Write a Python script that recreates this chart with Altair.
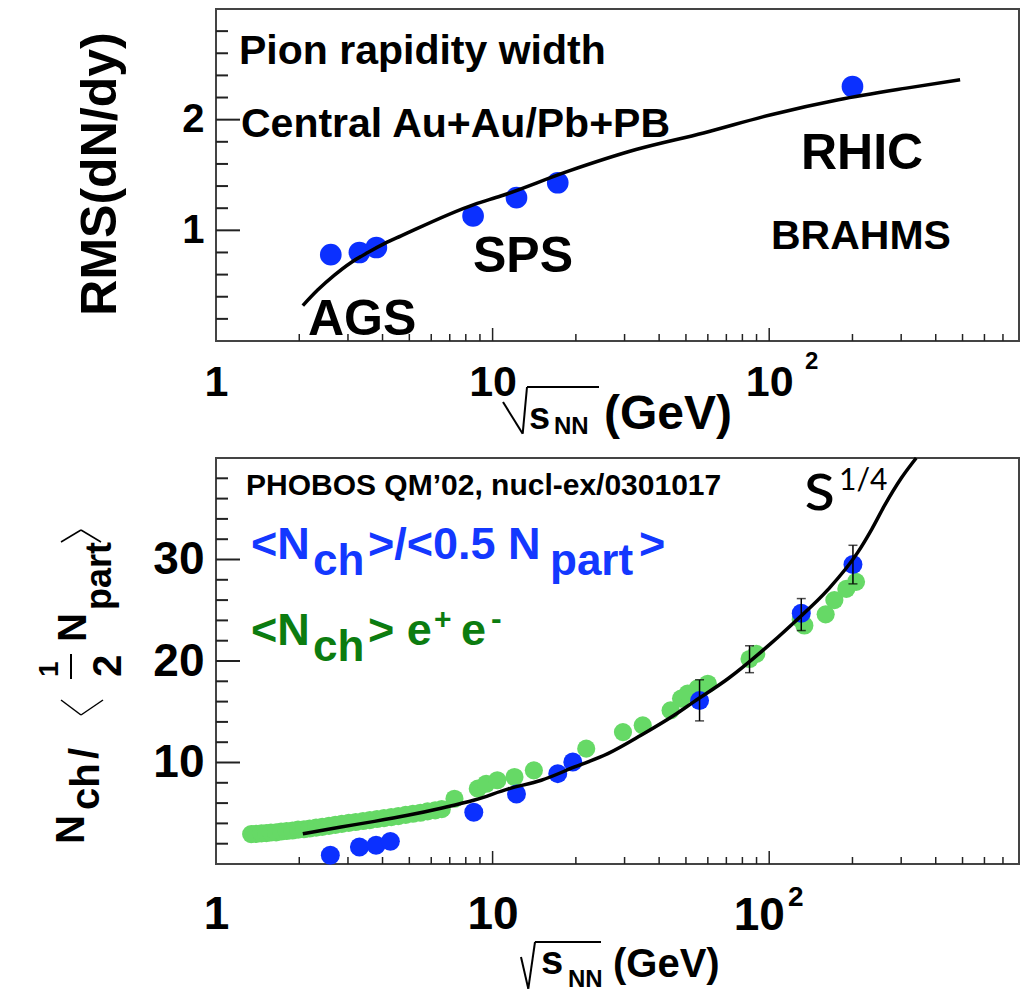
import altair as alt
import pandas as pd

# ---------------- data ----------------
# upper panel: RMS width of pion dN/dy vs sqrt(s_NN)
top_energy = [2.6, 3.3, 3.8, 8.5, 12.2, 17.2, 200.0]
top_rms = [0.78, 0.80, 0.845, 1.13, 1.295, 1.43, 2.30]
top_fit_energy = [2.06, 2.33, 2.68, 3.08, 3.54, 4.06, 4.67, 8.6, 10.7, 18.8, 33.0, 57.9,
                  101.6, 178.0, 313.0, 490.0]
top_fit_rms = [0.32, 0.46, 0.595, 0.71, 0.80, 0.88, 0.95, 1.235, 1.31, 1.535, 1.73, 1.88,
               2.045, 2.18, 2.285, 2.36]

# lower panel: N_ch / <N_part/2>  (blue, heavy ions) and e+e- (green)
hi_energy = [2.59, 3.30, 3.79, 4.27, 8.55, 12.2, 17.2, 19.5, 56.0, 130.6, 200.8]
hi_nch = [0.86, 1.67, 1.84, 2.23, 5.1, 6.9, 8.9, 10.05, 16.1, 24.7, 29.5]
err_energy = [56.0, 84.9, 130.6, 200.8]
err_low = [14.1, 18.85, 23.0, 27.6]
err_high = [18.15, 21.5, 26.15, 31.4]
ee_energy = [1.34, 1.40, 1.46, 1.52, 1.58, 1.65, 1.72, 1.80, 1.89, 1.98, 2.08, 2.18, 2.30,
             2.42, 2.56, 2.70, 2.85, 3.02, 3.20, 3.40, 3.60, 3.82, 4.05, 4.30, 4.56, 4.85,
             5.15, 5.48, 5.82, 6.2, 6.55, 7.28, 8.84, 9.48, 10.4, 12.0, 14.1, 21.8, 29.6,
             34.9, 44.0, 48.0, 50.7, 55.1, 60.0, 84.9, 89.8, 130.0, 134.0, 160.0, 172.0,
             190.0, 206.0]
ee_nch = [2.95, 2.97, 3.02, 3.05, 3.10, 3.12, 3.20, 3.25, 3.30, 3.38, 3.42, 3.50, 3.58,
          3.66, 3.76, 3.85, 3.96, 4.05, 4.14, 4.24, 4.33, 4.43, 4.52, 4.62, 4.72, 4.84,
          4.95, 5.05, 5.18, 5.28, 5.40, 6.43, 7.42, 7.91, 8.25, 8.57, 9.23, 11.36, 13.0,
          13.66, 15.14, 16.3, 16.78, 17.3, 17.76, 20.2, 20.7, 24.1, 23.5, 24.6, 26.0,
          27.1, 27.8]
fit_energy = [2.06, 2.83, 3.74, 4.93, 6.51, 8.6, 11.4, 15.0, 19.8, 26.1, 34.4, 45.3, 53.5,
              70.9, 93.5, 123.0, 164.0, 209.0, 235.0, 261.0, 300.0, 340.0]
fit_nch = [2.98, 3.65, 4.2, 4.8, 5.5, 6.3, 7.4, 8.25, 9.56, 10.87, 12.68, 14.65, 16.0,
           18.25, 20.9, 23.8, 27.1, 30.7, 33.0, 35.3, 38.0, 40.0]

# axis tick values
x_labels = [1, 10, 100]
x_major = [10, 100]
x_minor = [2, 3, 4, 5, 6, 7, 8, 9, 20, 30, 40, 50, 60, 70, 80, 90, 200, 300, 400, 500, 600, 700]
top_y_major = [1, 2]
top_y_minor = [0.2, 0.4, 0.6, 0.8, 1.2, 1.4, 1.6, 1.8, 2.2, 2.4, 2.6, 2.8]
bot_y_major = [10, 20, 30]
bot_y_minor = [2, 4, 6, 8, 12, 14, 16, 18, 22, 24, 26, 28, 32, 34, 36, 38]
hundred = [100]

# ---------------- styling ----------------
FONT = "Liberation Sans"
W, H1, H2 = 803, 332, 406
BLUE_PT = "#0b30ff"
GREEN_PT = "#66d966"
BLUE_TXT = "#1338ff"
GREEN_TXT = "#0c7c10"

xsc = alt.Scale(type="log", domain=[1, 800], nice=False)
ysc1 = alt.Scale(domain=[0, 3], nice=False, zero=False)
ysc2 = alt.Scale(domain=[0, 40], nice=False, zero=False)

one = pd.DataFrame({"k": [0]})


def txt(s, x, y, size, color="black", font=FONT, weight="bold", angle=0,
        align="left", baseline="alphabetic"):
    return alt.Chart(one).mark_text(
        text=s, font=font, fontSize=size, fontWeight=weight, color=color,
        angle=angle, align=align, baseline=baseline
    ).encode(x=alt.value(x), y=alt.value(y))


def seg(x1, y1, x2, y2, w=2):
    return alt.Chart(one).mark_rule(color="black", strokeWidth=w).encode(
        x=alt.value(x1), y=alt.value(y1), x2=alt.value(x2), y2=alt.value(y2))


def xaxis(size, pad, expr):
    return alt.Axis(values=x_labels, labelExpr=expr, labelFont=FONT, labelFontWeight="bold",
                    labelFontSize=size, labelColor="black", labelPadding=pad,
                    labelFlush=False, labelOverlap=False, ticks=False, tickSize=0,
                    domain=False, grid=False, title=None)


def yaxis(vals, size, pad):
    return alt.Axis(values=vals, labelFont=FONT, labelFontWeight="bold", labelFontSize=size,
                    labelColor="black", labelPadding=pad, labelFlush=False,
                    labelOverlap=False, ticks=False, tickSize=0, domain=False,
                    grid=False, title=None)


top_xax = xaxis(43, 20, "datum.value < 5 ? '1' : '10'")
top_yax = yaxis(top_y_major, 40, 12)
bot_xax = xaxis(46, 28, "datum.value < 5 ? '1' : (datum.value < 50 ? '10' : '')")
bot_yax = yaxis(bot_y_major, 46, 12)


def yticks(vals, ysc, yax, length):
    return alt.Chart(pd.DataFrame({"v": vals})).mark_rule(color="#222", strokeWidth=2).encode(
        y=alt.Y("v:Q", scale=ysc, axis=yax), x=alt.value(0), x2=alt.value(length))


def xticks(vals, xax, H, length):
    return alt.Chart(pd.DataFrame({"v": vals})).mark_rule(color="#222", strokeWidth=1.5).encode(
        x=alt.X("v:Q", scale=xsc, axis=xax), y=alt.value(H), y2=alt.value(H - length))


# ---------------- upper panel ----------------
top_pts = alt.Chart(pd.DataFrame({"E": top_energy, "R": top_rms})).mark_circle(
    size=470, color=BLUE_PT, opacity=1).encode(
    x=alt.X("E:Q", scale=xsc, axis=top_xax),
    y=alt.Y("R:Q", scale=ysc1, axis=top_yax))
top_fit = alt.Chart(pd.DataFrame({"E": top_fit_energy, "R": top_fit_rms})).mark_line(
    color="black", strokeWidth=3.5, interpolate="monotone").encode(
    x=alt.X("E:Q", scale=xsc, axis=top_xax), y=alt.Y("R:Q", scale=ysc1, axis=top_yax))

top = alt.layer(
    top_pts, top_fit,
    yticks(top_y_minor, ysc1, top_yax, 12), yticks(top_y_major, ysc1, top_yax, 24),
    xticks(x_minor, top_xax, H1, 7), xticks(x_major, top_xax, H1, 13),
    txt("Pion rapidity width", 23, 55, 41),
    txt("Central Au+Au/Pb+PB", 25, 128, 41),
    txt("AGS", 92, 326, 50),
    txt("SPS", 257, 263, 50),
    txt("RHIC", 585, 160, 50),
    txt("BRAHMS", 555, 240, 41),
    txt("2", 589, 360, 24),
    txt("RMS(dN/dy)", -100, 165, 50, angle=270, align="center"),
    # sqrt(s_NN) (GeV)
    seg(287, 393, 306.7, 424.7),
    seg(306.7, 424.7, 311, 378),
    seg(311, 378, 383, 378),
    txt("s", 313, 420, 38),
    txt("NN", 338, 425, 24),
    txt("(GeV)", 388, 420, 48),
).properties(width=W, height=H1)

# ---------------- lower panel ----------------
ee_pts = alt.Chart(pd.DataFrame({"E": ee_energy, "N": ee_nch})).mark_circle(
    size=330, color=GREEN_PT, opacity=1).encode(
    x=alt.X("E:Q", scale=xsc, axis=bot_xax),
    y=alt.Y("N:Q", scale=ysc2, axis=bot_yax))
hi_pts = alt.Chart(pd.DataFrame({"E": hi_energy, "N": hi_nch})).mark_circle(
    size=360, color=BLUE_PT, opacity=1).encode(
    x=alt.X("E:Q", scale=xsc, axis=bot_xax), y=alt.Y("N:Q", scale=ysc2, axis=bot_yax))
bot_fit = alt.Chart(pd.DataFrame({"E": fit_energy, "N": fit_nch})).mark_line(
    color="black", strokeWidth=3.5, interpolate="monotone").encode(
    x=alt.X("E:Q", scale=xsc, axis=bot_xax), y=alt.Y("N:Q", scale=ysc2, axis=bot_yax))
err_df = pd.DataFrame({"E": err_energy, "lo": err_low, "hi": err_high})
err_bars = alt.Chart(err_df).mark_rule(color="black", strokeWidth=1.5).encode(
    x=alt.X("E:Q", scale=xsc, axis=bot_xax), y=alt.Y("lo:Q", scale=ysc2, axis=bot_yax), y2="hi:Q")
err_lo = alt.Chart(err_df).mark_tick(orient="horizontal", size=9, thickness=1.5, color="black").encode(
    x=alt.X("E:Q", scale=xsc, axis=bot_xax), y=alt.Y("lo:Q", scale=ysc2, axis=bot_yax))
err_hi = alt.Chart(err_df).mark_tick(orient="horizontal", size=9, thickness=1.5, color="black").encode(
    x=alt.X("E:Q", scale=xsc, axis=bot_xax), y=alt.Y("hi:Q", scale=ysc2, axis=bot_yax))
# "10" of the 10^2 label, set a little left of its tick to leave room for the exponent
lbl100 = alt.Chart(pd.DataFrame({"v": hundred})).mark_text(
    text="10", dx=-10, font=FONT, fontSize=46, fontWeight="bold", color="black",
    align="center", baseline="alphabetic").encode(
    x=alt.X("v:Q", scale=xsc, axis=bot_xax), y=alt.value(472))

bot = alt.layer(
    ee_pts, hi_pts, bot_fit, err_bars, err_lo, err_hi,
    yticks(bot_y_minor, ysc2, bot_yax, 12), yticks(bot_y_major, ysc2, bot_yax, 24),
    xticks(x_minor, bot_xax, H2, 7), xticks(x_major, bot_xax, H2, 13),
    lbl100,
    txt("PHOBOS QM\u201902, nucl-ex/0301017", 30, 37, 30),
    # blue legend line
    txt("<N", 35, 101, 45, color=BLUE_TXT),
    txt("ch", 97, 117, 44, color=BLUE_TXT),
    txt(">/<0.5 N", 152, 101, 45, color=BLUE_TXT),
    txt("part", 334, 117, 44, color=BLUE_TXT),
    txt(">", 423, 101, 45, color=BLUE_TXT),
    # green legend line
    txt("<N", 35, 187, 45, color=GREEN_TXT),
    txt("ch", 97, 203, 44, color=GREEN_TXT),
    txt("> e", 152, 187, 45, color=GREEN_TXT),
    txt("+", 218, 171, 30, color=GREEN_TXT),
    txt("e", 245, 187, 45, color=GREEN_TXT),
    txt("-", 275, 171, 32, color=GREEN_TXT),
    # s^(1/4)
    txt("s", 588, 52, 72, font="Lato", weight="normal"),
    txt("1/4", 623, 32, 30, font="Lato", weight="normal"),
    # 10^2 superscript
    txt("2", 572, 448, 28),
    # x title sqrt(s_NN) (GeV)
    seg(305, 499, 312.3, 530.7),
    seg(312.3, 530.7, 319, 484),
    seg(319, 484, 385, 484),
    txt("s", 325, 516, 40),
    txt("NN", 352, 529, 24),
    txt("(GeV)", 397, 519, 40),
    # y title  N_ch / < 1/2 N_part >
    txt("N", -132, 386, 40, angle=270),
    txt("ch", -117, 352, 40, angle=270),
    txt("/", -118, 301, 40, angle=270),
    seg(-155, 242, -135, 257, 1.5),
    seg(-135, 257, -113, 242, 1.5),
    txt("1", -158, 219, 28, angle=270),
    seg(-145, 196, -145, 221, 2),
    txt("2", -95, 219, 40, angle=270),
    txt("N", -130, 184, 40, angle=270),
    txt("part", -105, 152, 36, angle=270),
    seg(-155, 84, -135, 72, 1.5),
    seg(-135, 72, -115, 84, 1.5),
).properties(width=W, height=H2)

chart = alt.vconcat(top, bot, spacing=117, bounds="flush").properties(
    padding={"left": 27, "right": 0, "top": 0, "bottom": 0}, background="white"
).configure_view(stroke="#444", strokeWidth=2)

chart.save("out.html", embed_options={"renderer": "svg", "actions": False})
